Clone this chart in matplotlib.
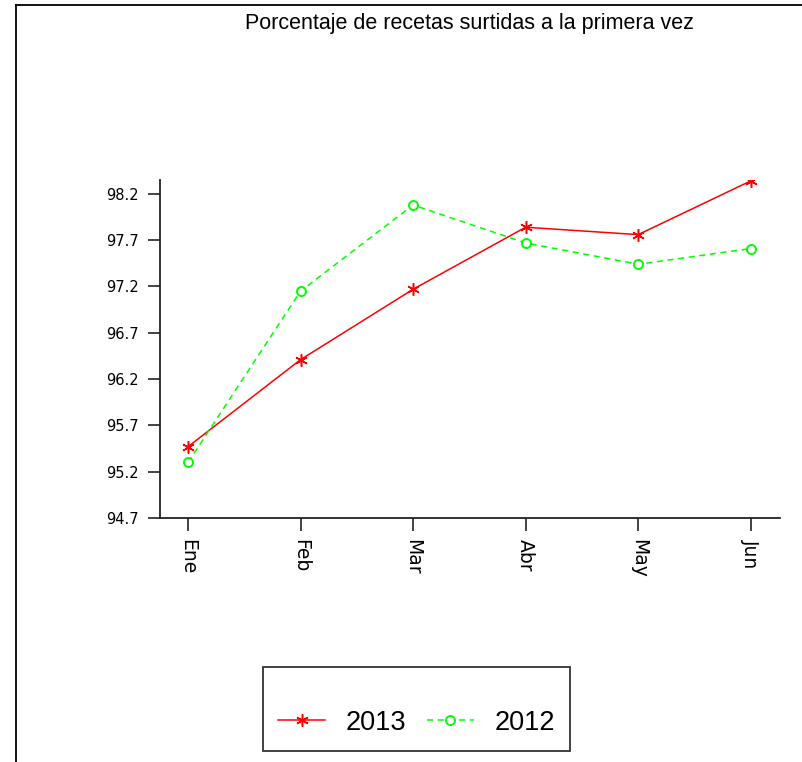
import matplotlib
matplotlib.use("Agg")
import matplotlib.pyplot as plt
from matplotlib.lines import Line2D

plt.rcParams['font.family'] = ['Liberation Sans', 'DejaVu Sans']

months = ["Ene", "Feb", "Mar", "Abr", "May", "Jun"]
serie_2013 = [95.47, 96.41, 97.17, 97.84, 97.76, 98.34]
serie_2012 = [95.30, 97.15, 98.08, 97.67, 97.44, 97.61]
yticks = [94.7, 95.2, 95.7, 96.2, 96.7, 97.2, 97.7, 98.2]
title = "Porcentaje de recetas surtidas a la primera vez"

W, H = 803, 762
fig = plt.figure(figsize=(W / 100, H / 100), dpi=100)
fig.patch.set_facecolor("white")

# outer border (left and top)
fig.add_artist(Line2D([16 / W, 16 / W], [0, 1 - 5 / H], color="black", lw=1.3, transform=fig.transFigure))
fig.add_artist(Line2D([16 / W, 1], [1 - 5 / H, 1 - 5 / H], color="black", lw=1.3, transform=fig.transFigure))

ax = fig.add_axes([160 / W, 1 - 518 / H, (780 - 160) / W, (518 - 180) / H])
x = list(range(len(months)))
l1, = ax.plot(x, serie_2013, color="#ff0000", lw=1.1, marker=(6, 2, 0), markersize=9,
              markeredgewidth=1.1, label="2013")
l2, = ax.plot(x, serie_2012, color="#00ff00", lw=1.1, linestyle=(0, (4, 3)), marker="o",
              markersize=6.5, markerfacecolor="white", markeredgecolor="#00ff00",
              markeredgewidth=1.4, label="2012")

ax.set_xlim(-0.249, 5.26)
ax.set_ylim(94.7, 98.35)
ax.set_xticks(x)
ax.set_xticklabels(months, rotation=-90, fontsize=13.5, family="DejaVu Sans")
ax.set_yticks(yticks)
ax.set_yticklabels([f"{v:.1f}" for v in yticks], fontsize=10.5, family="DejaVu Sans")
for s in ["top", "right"]:
    ax.spines[s].set_visible(False)
for s in ["left", "bottom"]:
    ax.spines[s].set_color("#222222")
    ax.spines[s].set_linewidth(1.3)
ax.tick_params(axis="both", direction="out", length=9, width=1.2, color="#222222")
ax.tick_params(axis="y", pad=6)
ax.tick_params(axis="x", pad=6)

fig.text(469 / W, 1 - 23 / H, title, ha="center", va="center", fontsize=15.5)

leg = fig.legend(handles=[l1, l2], loc="center", bbox_to_anchor=(416.5 / W, 1 - 709 / H),
                 ncol=2, fontsize=19.5, frameon=True, fancybox=False, edgecolor="black",
                 handlelength=1.75, handletextpad=0.75, columnspacing=0.75,
                 title=" ", title_fontsize=11, borderpad=0.55)
leg.get_frame().set_linewidth(1.3)

fig.savefig("out.png", dpi=100)
